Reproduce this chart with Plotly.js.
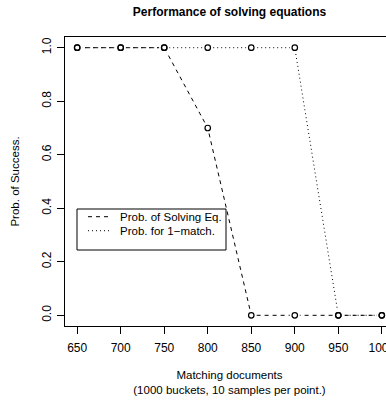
<!DOCTYPE html>
<html><head><meta charset="utf-8">
<script src="https://cdn.plot.ly/plotly-3.0.1.min.js"></script>
<style>html,body{margin:0;padding:0;overflow:hidden;background:#fff}#chart{width:394px;height:400px}</style>
</head><body><div id="chart"></div>
<script>
const docs = [650, 700, 750, 800, 850, 900, 950, 1000];
const probSolving = [1, 1, 1, 0.7, 0, 0, 0, 0];
const probOneMatch = [1, 1, 1, 1, 1, 1, 0, 0];
const xTicks = [650, 700, 750, 800, 850, 900, 950, 1000];
const yTicks = [0, 0.2, 0.4, 0.6, 0.8, 1.0];
const seriesNames = ['Prob. of Solving Eq.', 'Prob. for 1\u2212match.'];

const font = 'Liberation Sans, Arial, Helvetica, sans-serif';
const dashes = ['4px,4px', '1px,3px'];
const traces = [
  {x: docs, y: probSolving, mode: 'lines', name: seriesNames[0],
   line: {color: '#000', width: 1, dash: dashes[0]}},
  {x: docs, y: probOneMatch, mode: 'lines', name: seriesNames[1],
   line: {color: '#000', width: 1, dash: dashes[1]}},
  {x: docs.concat(docs), y: probSolving.concat(probOneMatch), mode: 'markers',
   hoverinfo: 'skip', marker: {symbol: 'circle', size: 10, color: '#fff', line: {width: 0}}},
  {x: docs.concat(docs), y: probSolving.concat(probOneMatch), mode: 'markers',
   marker: {symbol: 'circle-open', size: 5.5, color: '#000', line: {width: 1.2, color: '#000'}}}
];

// legend drawn in paper coordinates (plot area: 65..394 px wide, 37..326 px tall)
const px = v => (v - 65) / 329;
const py = v => (326 - v) / 289;
const legRows = [216.7, 230.7];
const shapes = [
  {type: 'rect', xref: 'paper', yref: 'paper', x0: px(77), x1: px(226), y0: py(250), y1: py(209),
   line: {color: '#000', width: 1}, fillcolor: '#fff', layer: 'above'}
];
const annotations = [];
seriesNames.forEach((n, i) => {
  shapes.push({type: 'line', xref: 'paper', yref: 'paper', x0: px(88), x1: px(109),
    y0: py(legRows[i]), y1: py(legRows[i]), line: {color: '#000', width: 1, dash: dashes[i]}, layer: 'above'});
  annotations.push({xref: 'paper', yref: 'paper', x: px(118), y: py(legRows[i]), xanchor: 'left',
    yanchor: 'middle', text: n, showarrow: false, font: {family: font, size: 11.5, color: '#000'}});
});

const axisCommon = {showgrid: false, zeroline: false, showline: true, mirror: true,
  linecolor: '#000', linewidth: 1, ticks: 'outside', ticklen: 7, tickwidth: 1, tickcolor: '#000',
  tickfont: {family: font, size: 12, color: '#000'}, ticklabeloverflow: 'allow'};
const layout = {
  width: 394, height: 400,
  margin: {l: 65, r: 0, t: 37, b: 74},
  paper_bgcolor: '#fff', plot_bgcolor: '#fff',
  font: {family: font, color: '#000'},
  showlegend: false,
  title: {text: '<b>Performance of solving equations</b>', font: {family: font, size: 12, color: '#000'},
    x: 0.5, xref: 'paper', y: 0.97, yanchor: 'middle'},
  xaxis: Object.assign({}, axisCommon, {range: [636, 1014], tickvals: xTicks,
    ticktext: xTicks.map(String), ticklabelstandoff: 4,
    title: {text: 'Matching documents<br>(1000 buckets, 10 samples per point.)',
      font: {family: font, size: 11.5, color: '#000'}, standoff: 16}}),
  yaxis: Object.assign({}, axisCommon, {range: [-0.04, 1.04], tickvals: yTicks,
    ticktext: yTicks.map(v => v.toFixed(1)), tickangle: -90, ticklabelstandoff: 1,
    title: {text: 'Prob. of Success.', font: {family: font, size: 11.5, color: '#000'}, standoff: 18}}),
  shapes: shapes,
  annotations: annotations
};
Plotly.newPlot('chart', traces, layout, {displayModeBar: false, staticPlot: true});
</script></body></html>
